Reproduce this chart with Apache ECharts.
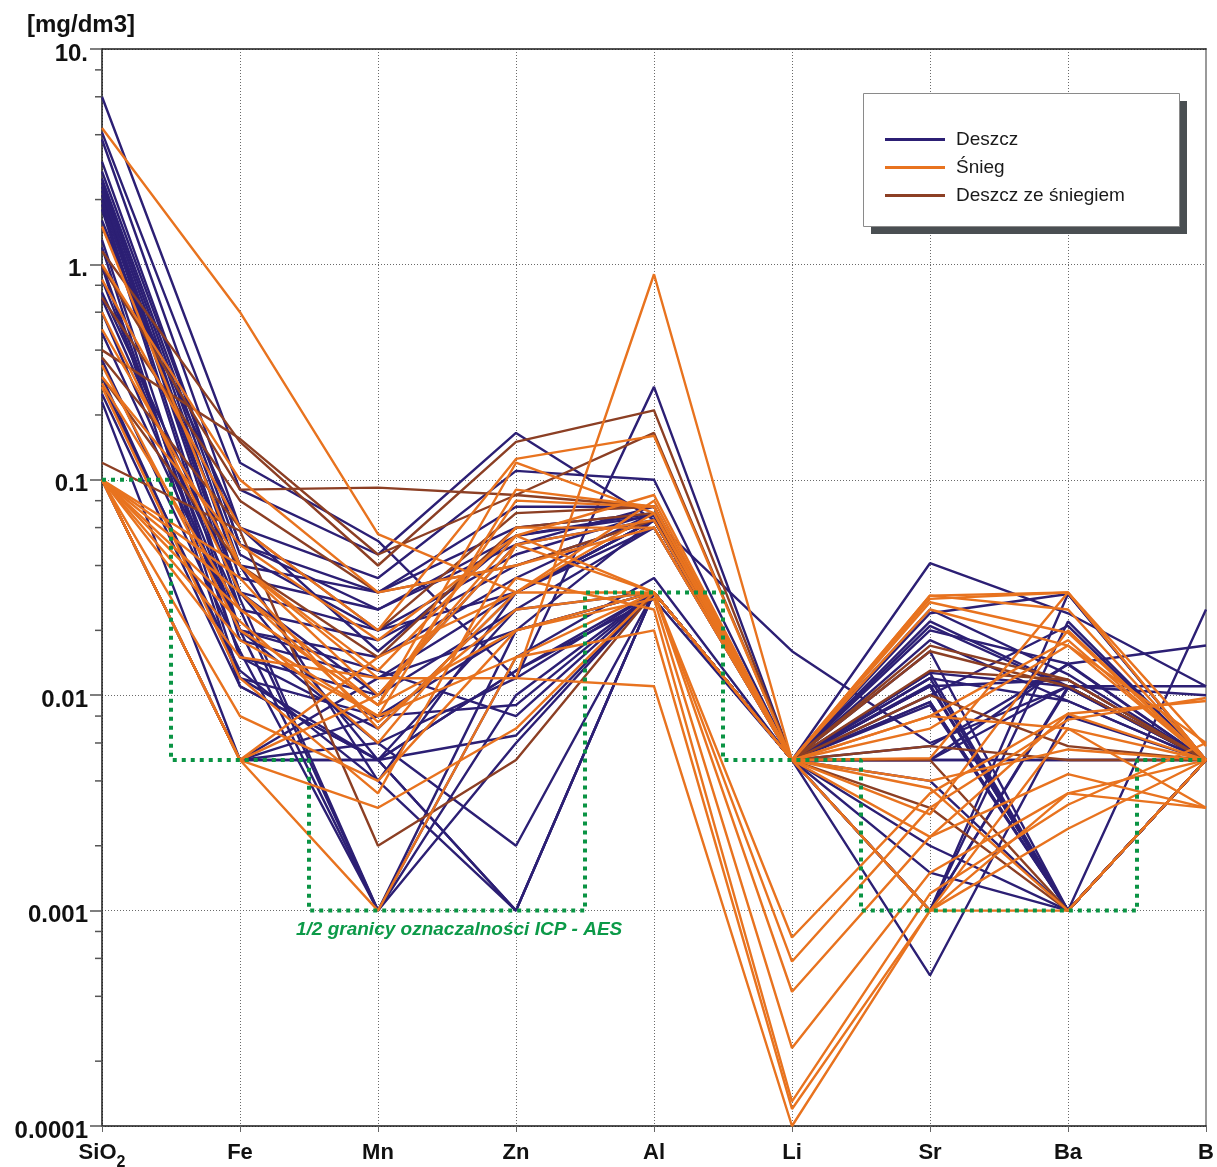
<!DOCTYPE html>
<html>
<head>
<meta charset="utf-8">
<script src="https://cdn.jsdelivr.net/npm/echarts@6/dist/echarts.min.js"></script>
<style>
  html, body { margin: 0; padding: 0; background: #ffffff; }
  #chart { width: 1217px; height: 1167px; }
</style>
</head>
<body>
<div id="chart"></div>
<script>
// Elements along the horizontal axis
const elements = ['SiO2', 'Fe', 'Mn', 'Zn', 'Al', 'Li', 'Sr', 'Ba', 'B'];

// Decade labels on the concentration axis, keyed by exponent
const yTickLabels = { '-4': '0.0001', '-3': '0.001', '-2': '0.01', '-1': '0.1', '0': '1.', '1': '10.' };

// Minor tick positions (2, 4, 6, 8 within each decade)
const minorTicks = [
  0.0002, 0.0004, 0.0006, 0.0008,
  0.002, 0.004, 0.006, 0.008,
  0.02, 0.04, 0.06, 0.08,
  0.2, 0.4, 0.6, 0.8,
  2, 4, 6, 8
];

// Half of the ICP-AES quantification limit for each element [mg/dm3]
const halfLimit = [0.1, 0.005, 0.001, 0.001, 0.03, 0.005, 0.001, 0.001, 0.005];

// Rain samples: SiO2, Fe, Mn, Zn, Al, Li, Sr, Ba, B [mg/dm3]
const rain = [
  [6.0, 0.12, 0.052, 0.012, 0.27, 0.005, 0.041, 0.024, 0.011],
  [4.1, 0.09, 0.045, 0.165, 0.065, 0.016, 0.006, 0.011, 0.005],
  [3.8, 0.06, 0.035, 0.11, 0.1, 0.005, 0.024, 0.0295, 0.005],
  [2.7, 0.05, 0.03, 0.075, 0.075, 0.005, 0.022, 0.011, 0.005],
  [2.4, 0.04, 0.03, 0.06, 0.07, 0.005, 0.021, 0.0108, 0.005],
  [2.3, 0.035, 0.025, 0.05, 0.065, 0.005, 0.018, 0.0094, 0.005],
  [2.1, 0.03, 0.02, 0.045, 0.07, 0.005, 0.012, 0.001, 0.005],
  [2.0, 0.025, 0.018, 0.04, 0.065, 0.005, 0.011, 0.001, 0.005],
  [1.9, 0.02, 0.015, 0.035, 0.07, 0.005, 0.0127, 0.001, 0.025],
  [1.8, 0.018, 0.012, 0.03, 0.065, 0.005, 0.0093, 0.001, 0.005],
  [1.3, 0.015, 0.01, 0.025, 0.06, 0.005, 0.005, 0.014, 0.017],
  [1.2, 0.012, 0.008, 0.02, 0.065, 0.005, 0.0058, 0.0139, 0.005],
  [0.98, 0.011, 0.005, 0.013, 0.03, 0.005, 0.001, 0.022, 0.005],
  [0.74, 0.03, 0.005, 0.0065, 0.03, 0.005, 0.0005, 0.008, 0.005],
  [0.69, 0.025, 0.001, 0.01, 0.03, 0.005, 0.002, 0.001, 0.005],
  [0.48, 0.02, 0.001, 0.015, 0.035, 0.005, 0.001, 0.0108, 0.005],
  [0.36, 0.016, 0.001, 0.02, 0.03, 0.005, 0.001, 0.0295, 0.005],
  [0.28, 0.013, 0.004, 0.001, 0.03, 0.005, 0.001, 0.011, 0.011],
  [0.25, 0.011, 0.005, 0.001, 0.03, 0.005, 0.009, 0.001, 0.005],
  [0.23, 0.005, 0.005, 0.001, 0.03, 0.005, 0.0112, 0.001, 0.005],
  [0.1, 0.005, 0.006, 0.002, 0.03, 0.005, 0.005, 0.005, 0.005],
  [0.1, 0.005, 0.008, 0.009, 0.03, 0.005, 0.011, 0.001, 0.005],
  [0.1, 0.005, 0.005, 0.013, 0.028, 0.005, 0.0127, 0.011, 0.01],
  [0.1, 0.005, 0.012, 0.02, 0.03, 0.005, 0.012, 0.0094, 0.005],
  [2.5, 0.045, 0.02, 0.03, 0.06, 0.005, 0.016, 0.001, 0.005],
  [1.5, 0.06, 0.016, 0.055, 0.07, 0.005, 0.025, 0.0125, 0.005],
  [2.2, 0.03, 0.01, 0.05, 0.075, 0.005, 0.02, 0.014, 0.005],
  [1.0, 0.015, 0.007, 0.03, 0.065, 0.005, 0.0093, 0.001, 0.005],
  [0.6, 0.02, 0.013, 0.008, 0.03, 0.005, 0.0015, 0.001, 0.005],
  [3.0, 0.05, 0.025, 0.055, 0.068, 0.005, 0.011, 0.0118, 0.005],
  [2.0, 0.028, 0.001, 0.006, 0.03, 0.005, 0.01, 0.021, 0.005],
  [0.3, 0.012, 0.005, 0.025, 0.03, 0.005, 0.004, 0.001, 0.005],
  [1.6, 0.04, 0.004, 0.03, 0.065, 0.005, 0.005, 0.005, 0.005],
  [0.85, 0.02, 0.006, 0.012, 0.03, 0.005, 0.005, 0.011, 0.005]
];

// Snow samples
const snow = [
  [4.3, 0.6, 0.056, 0.03, 0.08, 0.005, 0.029, 0.03, 0.005],
  [1.5, 0.04, 0.012, 0.012, 0.9, 0.005, 0.027, 0.0195, 0.005],
  [0.85, 0.06, 0.02, 0.125, 0.16, 0.005, 0.025, 0.017, 0.005],
  [0.6, 0.03, 0.009, 0.12, 0.07, 0.005, 0.029, 0.025, 0.005],
  [0.34, 0.02, 0.008, 0.09, 0.075, 0.005, 0.0051, 0.03, 0.0058],
  [0.3, 0.05, 0.018, 0.055, 0.085, 0.005, 0.008, 0.018, 0.005],
  [0.27, 0.012, 0.0035, 0.05, 0.03, 0.005, 0.007, 0.017, 0.006],
  [0.1, 0.04, 0.01, 0.055, 0.03, 0.00075, 0.0035, 0.0082, 0.0094],
  [0.1, 0.035, 0.007, 0.03, 0.03, 0.00058, 0.003, 0.0077, 0.0097],
  [0.1, 0.03, 0.0075, 0.025, 0.03, 0.00042, 0.0022, 0.0043, 0.003],
  [0.1, 0.025, 0.009, 0.02, 0.028, 0.00023, 0.0015, 0.0035, 0.003],
  [0.1, 0.022, 0.006, 0.035, 0.025, 0.00013, 0.0012, 0.0031, 0.006],
  [0.1, 0.018, 0.008, 0.015, 0.02, 0.00012, 0.001, 0.0024, 0.005],
  [0.1, 0.015, 0.012, 0.012, 0.011, 0.0001, 0.001, 0.001, 0.005],
  [0.1, 0.005, 0.001, 0.015, 0.03, 0.005, 0.001, 0.007, 0.005],
  [0.1, 0.005, 0.01, 0.05, 0.065, 0.005, 0.004, 0.0056, 0.005],
  [0.1, 0.005, 0.015, 0.03, 0.07, 0.005, 0.0037, 0.001, 0.005],
  [1.0, 0.1, 0.03, 0.04, 0.06, 0.005, 0.028, 0.03, 0.005],
  [0.5, 0.04, 0.013, 0.06, 0.06, 0.005, 0.0028, 0.02, 0.005],
  [0.28, 0.025, 0.009, 0.08, 0.075, 0.005, 0.0022, 0.0082, 0.005],
  [0.1, 0.008, 0.004, 0.02, 0.03, 0.005, 0.001, 0.0035, 0.005],
  [0.1, 0.005, 0.003, 0.007, 0.03, 0.005, 0.008, 0.007, 0.003]
];

// Sleet (rain with snow) samples
const sleet = [
  [1.15, 0.15, 0.04, 0.15, 0.21, 0.005, 0.017, 0.0118, 0.005],
  [0.98, 0.09, 0.092, 0.085, 0.075, 0.005, 0.016, 0.011, 0.005],
  [0.4, 0.155, 0.045, 0.085, 0.165, 0.005, 0.013, 0.0118, 0.005],
  [0.37, 0.06, 0.02, 0.07, 0.075, 0.005, 0.01, 0.0058, 0.005],
  [0.12, 0.058, 0.002, 0.005, 0.03, 0.005, 0.003, 0.001, 0.005],
  [0.3, 0.04, 0.015, 0.06, 0.07, 0.005, 0.0058, 0.005, 0.005],
  [0.7, 0.08, 0.03, 0.04, 0.065, 0.005, 0.005, 0.001, 0.005]
];

const RAIN = 'Deszcz';
const SNOW = 'Śnieg';
const SLEET = 'Deszcz ze śniegiem';
const colorOf = { [RAIN]: '#2c1f74', [SNOW]: '#e8731f', [SLEET]: '#8c3f24' };

const FONT = '"Liberation Sans", Arial, Helvetica, sans-serif';

function sampleSeries(rows, name) {
  const color = colorOf[name];
  return rows.map(row => ({
    type: 'line',
    name: name,
    data: row,
    symbol: 'none',
    silent: true,
    animation: false,
    lineStyle: { width: 2.4, color: color },
    itemStyle: { color: color },
    emphasis: { disabled: true },
    z: 2
  }));
}

const chart = echarts.init(document.getElementById('chart'), null, { renderer: 'canvas' });

const option = {
  backgroundColor: '#ffffff',
  animation: false,
  grid: { left: 102, right: 11, top: 49, bottom: 41, containLabel: false, outerBoundsMode: 'none' },
  legend: {
    data: [RAIN, SNOW, SLEET],
    orient: 'vertical',
    left: 880,
    top: 125,
    icon: 'rect',
    itemWidth: 60,
    itemHeight: 3,
    itemGap: 9,
    selectedMode: false,
    z: 60,
    textStyle: { fontFamily: FONT, fontSize: 19, color: '#1a1a1a', padding: [0, 0, 0, 6], lineHeight: 19 }
  },
  xAxis: [
    {
      type: 'category',
      data: elements,
      boundaryGap: false,
      axisLine: { lineStyle: { color: '#1a1a1a', width: 1.5 } },
      axisTick: { show: true, interval: 0, length: 6, lineStyle: { color: '#666' } },
      axisLabel: {
        interval: 0,
        margin: 16,
        color: '#111',
        fontFamily: FONT,
        fontWeight: 'bold',
        fontSize: 22,
        formatter: v => v === 'SiO2' ? '{m|SiO}{s|2}' : '{m|' + v + '}',
        rich: {
          m: { fontFamily: FONT, fontWeight: 'bold', fontSize: 22, lineHeight: 22, verticalAlign: 'top', color: '#111' },
          s: { fontFamily: FONT, fontWeight: 'bold', fontSize: 16, lineHeight: 29, verticalAlign: 'bottom', color: '#111' }
        }
      },
      splitLine: { show: true, interval: 0, lineStyle: { color: '#6a6a6a', width: 1, type: [1, 2] } }
    },
    {
      type: 'category',
      data: elements,
      boundaryGap: false,
      position: 'top',
      axisLine: { lineStyle: { color: '#1a1a1a', width: 1.5 } },
      axisTick: { show: false },
      axisLabel: { show: false },
      splitLine: { show: false }
    }
  ],
  yAxis: [
    {
      type: 'log',
      logBase: 10,
      min: 0.0001,
      max: 10,
      axisLine: { show: true, lineStyle: { color: '#1a1a1a', width: 1.5 } },
      axisTick: { show: true, length: 12, lineStyle: { color: '#555', width: 1.5 } },
      axisLabel: {
        margin: 14,
        color: '#111',
        fontFamily: FONT,
        fontWeight: 'bold',
        fontSize: 24,
        verticalAlign: 'top',
        lineHeight: 10,
        formatter: v => yTickLabels[String(Math.round(Math.log10(v)))] || ''
      },
      splitLine: { show: true, lineStyle: { color: '#6a6a6a', width: 1, type: [1, 2] } }
    },
    {
      type: 'log',
      logBase: 10,
      min: 0.0001,
      max: 10,
      position: 'right',
      axisLine: { show: true, lineStyle: { color: '#9a9a9a', width: 2 } },
      axisTick: { show: false },
      axisLabel: { show: false },
      splitLine: { show: false }
    }
  ],
  graphic: [
    {
      type: 'text',
      left: 27,
      top: 13,
      style: { text: '[mg/dm3]', font: 'bold 24px ' + FONT, fill: '#111' }
    },
    {
      type: 'rect',
      z: 50,
      shape: { x: 871, y: 101, width: 316, height: 133 },
      style: { fill: '#4a4f52' }
    },
    {
      type: 'rect',
      z: 51,
      shape: { x: 863.5, y: 93.5, width: 316, height: 133 },
      style: { fill: '#ffffff', stroke: '#8a8a8a', lineWidth: 1 }
    },
    {
      type: 'text',
      z: 20,
      left: 296,
      top: 920,
      style: { text: '1/2 granicy oznaczalności ICP - AES', font: 'italic bold 19px ' + FONT, fill: '#0c9a48' }
    }
  ],
  series: [
    ...sampleSeries(rain, RAIN),
    ...sampleSeries(sleet, SLEET),
    ...sampleSeries(snow, SNOW),
    {
      type: 'line',
      name: 'limit',
      data: halfLimit,
      step: 'middle',
      symbol: 'none',
      silent: true,
      animation: false,
      lineStyle: { color: '#0a9444', width: 4, type: [4, 5] },
      z: 10
    },
    {
      type: 'custom',
      name: 'minorTicks',
      data: minorTicks.map(v => [0, v]),
      encode: { x: 0, y: 1 },
      clip: false,
      silent: true,
      z: 5,
      renderItem: (params, api) => {
        const p = api.coord([0, api.value(1)]);
        return {
          type: 'line',
          shape: { x1: p[0] - 7, y1: p[1], x2: p[0], y2: p[1] },
          style: { stroke: '#555', lineWidth: 1.5 }
        };
      }
    }
  ]
};

chart.setOption(option);
</script>
</body>
</html>
